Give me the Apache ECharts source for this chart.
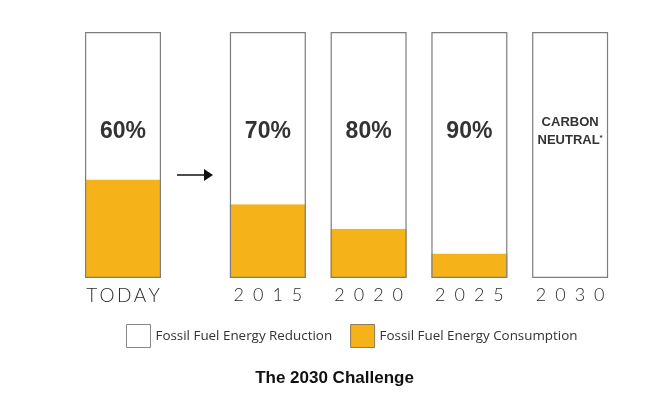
<!DOCTYPE html>
<html>
<head>
<meta charset="utf-8">
<script src="https://cdn.jsdelivr.net/npm/echarts@6/dist/echarts.min.js"></script>
<style>html,body{margin:0;padding:0;background:#fff}#c{width:669px;height:395px}</style>
</head>
<body>
<div id="c"></div>
<script>
// ---- data ----
var categories = ['TODAY', '2015', '2020', '2025', '2030'];
var consumption = [40, 30, 20, 10, 0];     // Fossil Fuel Energy Consumption (% of today's baseline)
var reduction = [60, 70, 80, 90, 100];     // Fossil Fuel Energy Reduction (%)
var barLabels = ['60%', '70%', '80%', '90%', 'CARBON\nNEUTRAL{s|*}'];
var seriesNames = ['Fossil Fuel Energy Reduction', 'Fossil Fuel Energy Consumption'];
var titleText = 'The 2030 Challenge';

var YELLOW = '#F6B219';
var BORDER = '#7d7d7d';

function spaced(s) {
  return s === 'TODAY' ? '{t|' + s.split('').join('\u2009') + '}' : '{y|' + s.split('').join('\u2002') + '}';
}

var groups = [[0], [1, 2, 3, 4]];
var grids = [
  { left: 73, top: 32, width: 100, height: 246 },
  { left: 217.5, top: 32, width: 403, height: 246 }
];
var xAxes = [], yAxes = [], series = [];
groups.forEach(function (idx, g) {
  xAxes.push({
    type: 'category', gridIndex: g, data: idx.map(function (i) { return categories[i]; }),
    axisLine: { show: false }, axisTick: { show: false },
    axisLabel: {
      interval: 0, hideOverlap: false,
      margin: 8, fontSize: 18, color: '#2a2a2a', fontFamily: 'Lato', fontWeight: 300, formatter: spaced,
      rich: {
        t: { fontSize: 19, color: '#2a2a2a', fontFamily: 'Lato', fontWeight: 300 },
        y: { fontSize: 18, color: '#2a2a2a', fontFamily: 'Lato', fontWeight: 300 }
      }
    }
  });
  yAxes.push({ type: 'value', gridIndex: g, min: 0, max: 100, show: false, splitLine: { show: false } });
  series.push({
    name: seriesNames[1], type: 'bar', stack: 's' + g, xAxisIndex: g, yAxisIndex: g, barWidth: 76,
    itemStyle: { color: YELLOW }, data: idx.map(function (i) { return consumption[i]; }), z: 2
  });
  series.push({
    name: seriesNames[0], type: 'bar', stack: 's' + g, xAxisIndex: g, yAxisIndex: g, barWidth: 76,
    itemStyle: { color: '#ffffff' }, data: idx.map(function (i) { return reduction[i]; }), z: 2
  });
  series.push({
    name: 'outline', type: 'bar', xAxisIndex: g, yAxisIndex: g, barWidth: 76, barGap: '-100%', z: 3,
    itemStyle: { color: 'rgba(0,0,0,0)', borderColor: BORDER, borderWidth: 1.2 },
    silent: true,
    data: idx.map(function (i) {
      var small = i === 4;
      return {
        value: consumption[i] + reduction[i],
        label: {
          show: true, position: ['50%', 99.5], align: 'center', verticalAlign: 'middle',
          formatter: barLabels[i],
          fontFamily: 'Liberation Sans', fontWeight: 'bold', color: '#333',
          fontSize: small ? 13 : 23, lineHeight: small ? 18 : 24,
          rich: { s: { fontSize: 8, fontWeight: 'bold', color: '#333', fontFamily: 'Liberation Sans', padding: [0, 0, 6, 0], lineHeight: 18 } }
        }
      };
    })
  });
});

var chart = echarts.init(document.getElementById('c'), null, { renderer: 'canvas' });
chart.setOption({
  animation: false,
  backgroundColor: '#ffffff',
  title: {
    text: titleText, left: 'center', top: 370, padding: 0,
    textStyle: { fontFamily: 'Liberation Sans', fontWeight: 'bold', fontSize: 17, color: '#111' }
  },
  legend: {
    left: 126, top: 324, padding: 0, itemWidth: 24, itemHeight: 23, itemGap: 18, icon: 'rect',
    textStyle: { fontFamily: 'Open Sans', fontSize: 13.4, color: '#333' },
    data: [
      { name: seriesNames[0], itemStyle: { color: '#ffffff', borderColor: '#888', borderWidth: 1 } },
      { name: seriesNames[1], itemStyle: { color: YELLOW, borderColor: '#8c7b55', borderWidth: 1 } }
    ]
  },
  grid: grids,
  xAxis: xAxes,
  yAxis: yAxes,
  series: series,
  graphic: [
    { type: 'line', shape: { x1: 177, y1: 175, x2: 207, y2: 175 }, style: { stroke: '#111', lineWidth: 1.5 } },
    { type: 'polygon', shape: { points: [[204, 169], [213, 175], [204, 181]] }, style: { fill: '#111' } }
  ]
});
</script>
</body>
</html>
